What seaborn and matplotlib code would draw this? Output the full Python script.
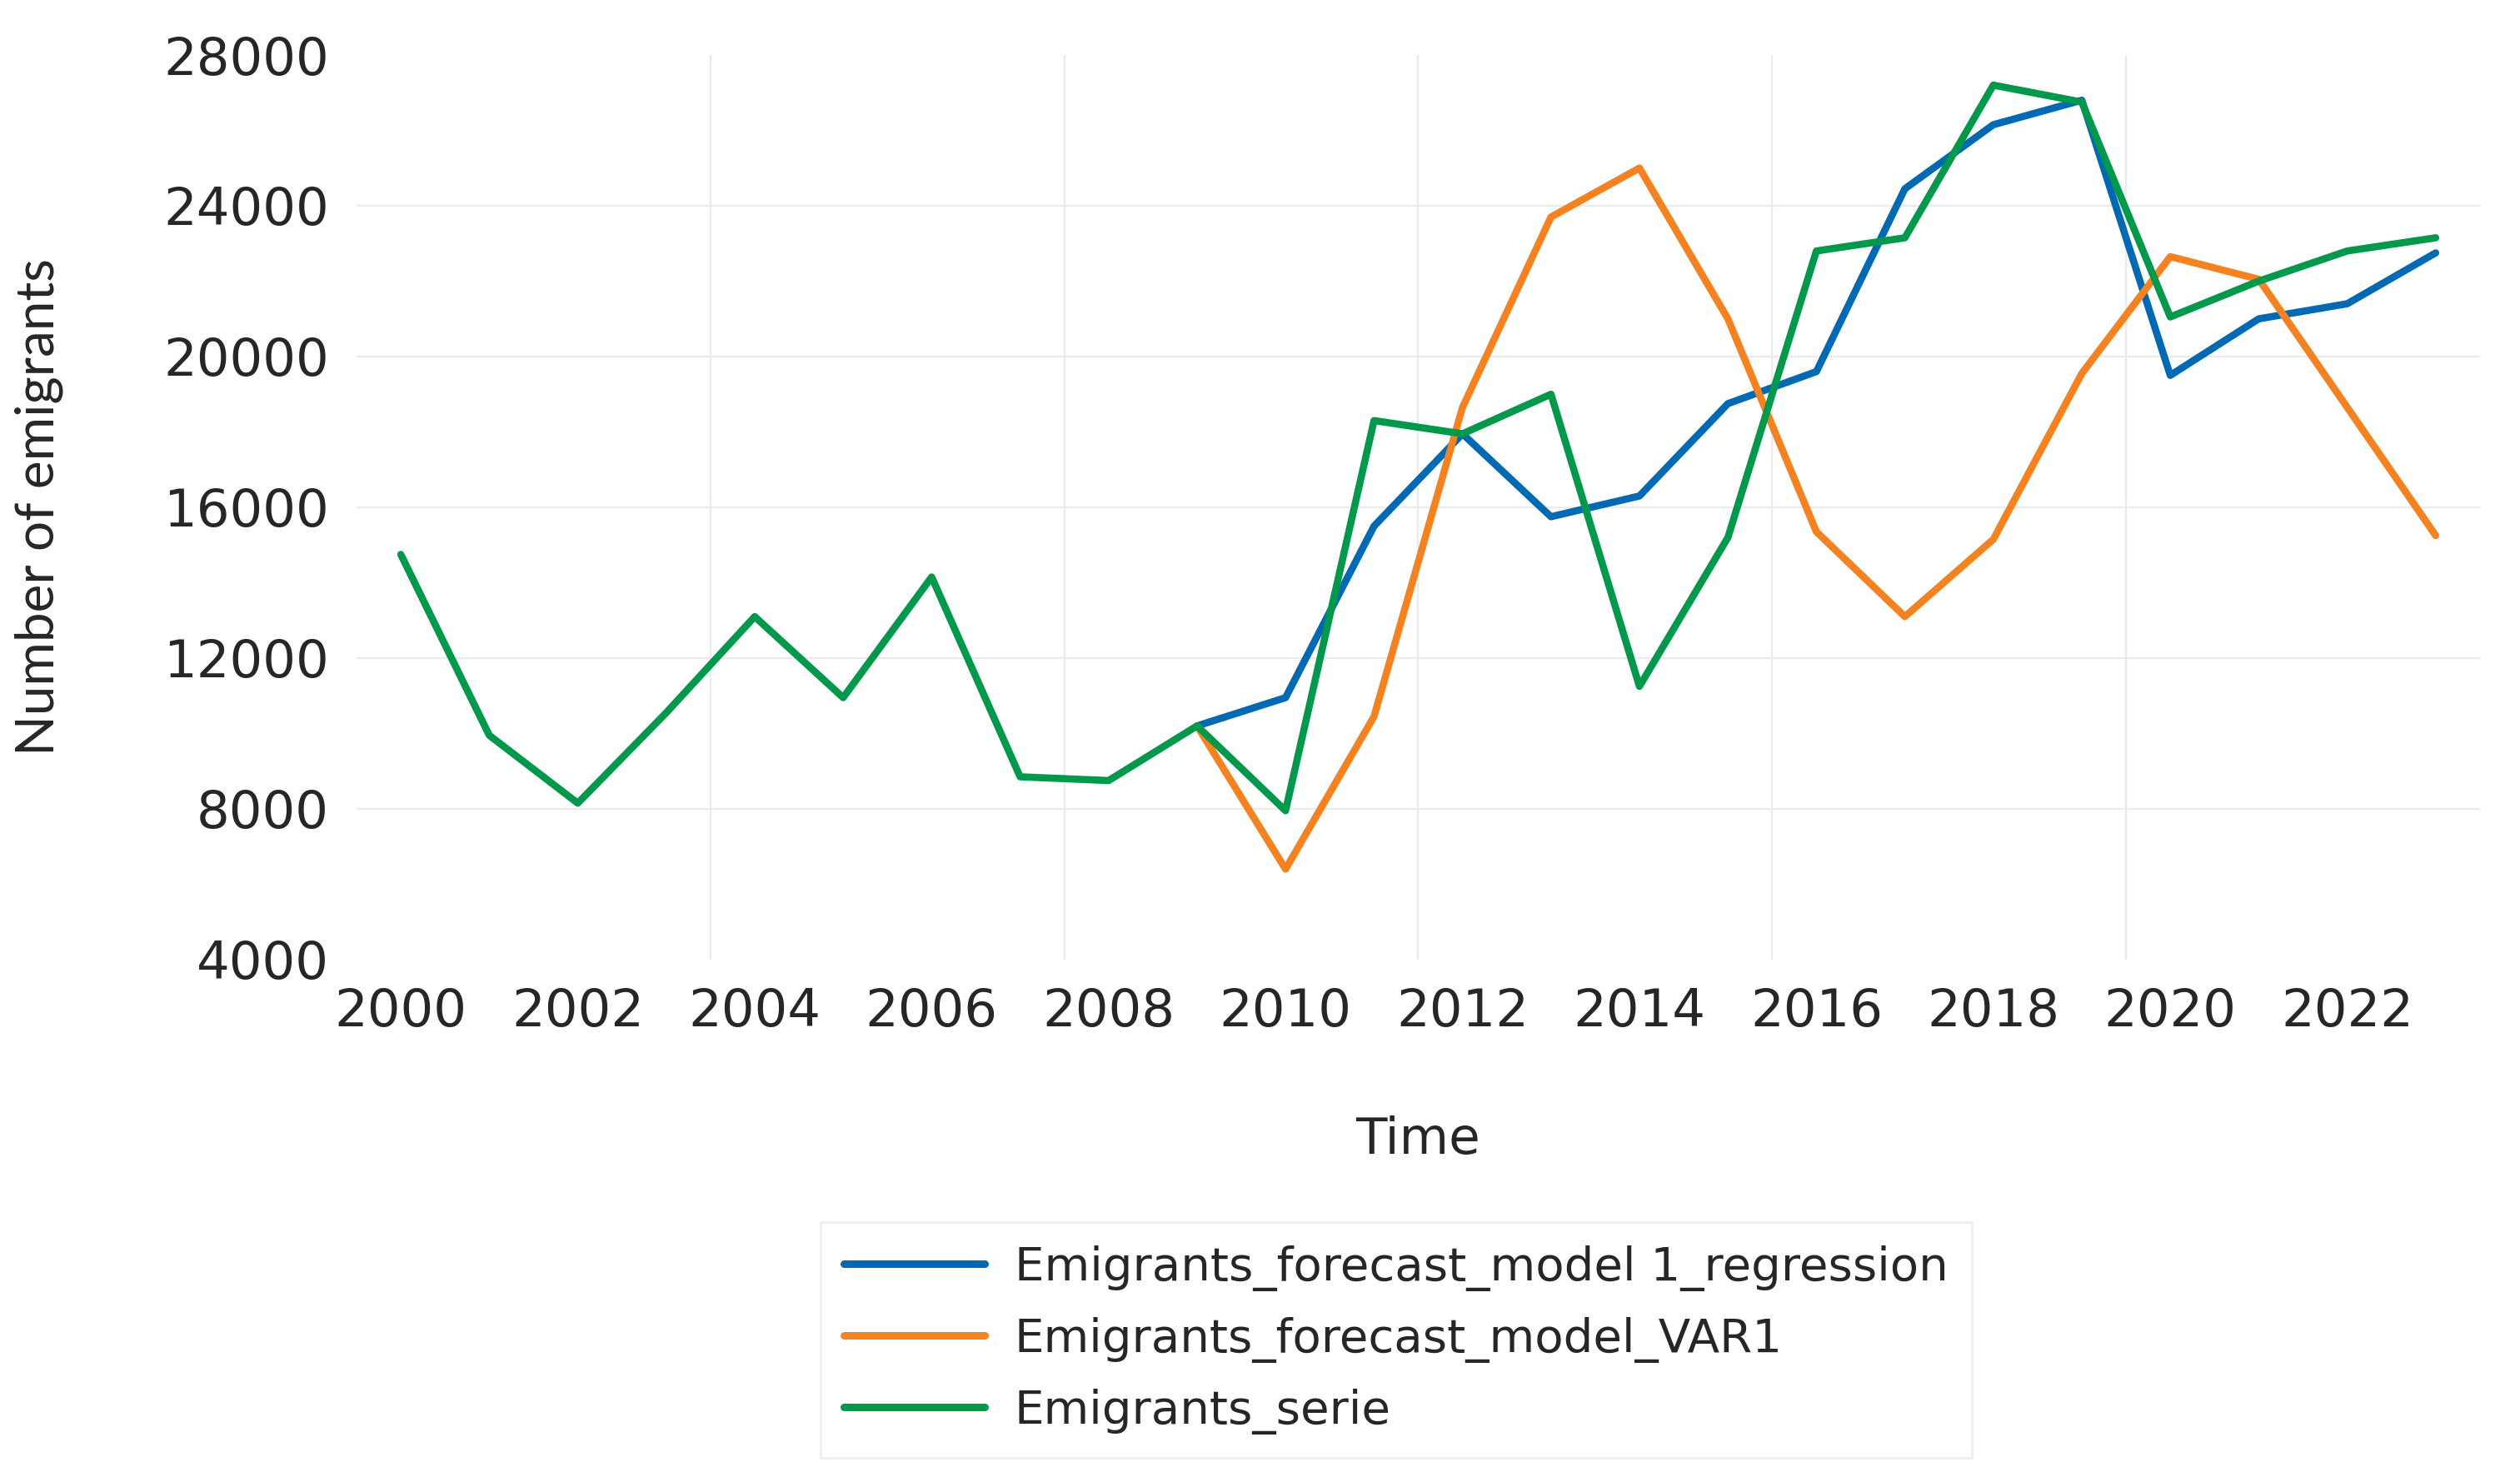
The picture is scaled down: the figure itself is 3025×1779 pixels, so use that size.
import numpy as np
import pandas as pd
import matplotlib
matplotlib.use('Agg')
import matplotlib.pyplot as plt
import seaborn as sns

# values
years = list(range(2000, 2024))
serie = [14750, 9950, 8150, 10550, 13100, 10950, 14150, 8850, 8750, 10200,
         7950, 18300, 17950, 19000, 11250, 15200, 22800, 23150, 27200, 26750,
         21050, 22000, 22800, 23150]

forecast_years = list(range(2009, 2024))
forecast_reg = [10200, 10950, 15500, 17950, 15750, 16300, 18750, 19600, 24450,
                26150, 26800, 19500, 21000, 21400, 22750]
forecast_var = [10200, 6400, 10450, 18650, 23700, 25000, 21000, 15350, 13100,
                15150, 19550, 22650, 22050, 18650, 15250]

names = ['Emigrants_forecast_model 1_regression',
         'Emigrants_forecast_model_VAR1',
         'Emigrants_serie']
colors = ['#0069B4', '#F58220', '#00994C']

xticks = list(range(2000, 2023, 2))
yticks = list(range(4000, 28001, 4000))
xgrid = [2003.5, 2007.5, 2011.5, 2015.5, 2019.5]


def main():
    df = pd.concat([
        pd.DataFrame({'year': forecast_years, 'value': forecast_reg, 'series': names[0]}),
        pd.DataFrame({'year': forecast_years, 'value': forecast_var, 'series': names[1]}),
        pd.DataFrame({'year': years, 'value': serie, 'series': names[2]}),
    ], ignore_index=True)

    sns.set_style('white')
    fig = plt.figure(figsize=(30.25, 17.79), dpi=100)
    ax = fig.add_axes([0.1415, 0.3525, 0.9841 - 0.1415, 0.9629 - 0.3525])

    sns.lineplot(data=df, x='year', y='value', hue='series', hue_order=names,
                 palette=dict(zip(names, colors)), linewidth=6.2, sort=False,
                 ax=ax)

    ax.set_xlim(1999.5, 2023.5)
    ax.set_ylim(4000, 28000)
    ax.set_xticks(xticks)
    ax.set_xticks(xgrid, minor=True)
    ax.set_yticks(yticks)
    ax.set_xticklabels([str(t) for t in xticks], fontsize=45, family='DejaVu Sans')
    ax.set_yticklabels([str(t) for t in yticks], fontsize=45, family='DejaVu Sans')
    ax.tick_params(axis='both', which='both', length=0, pad=24)

    ax.grid(False)
    ax.grid(True, axis='x', which='minor', color='#ebebeb', linewidth=1.6)
    ax.grid(True, axis='y', which='major', color='#ebebeb', linewidth=1.6)
    gl = ax.get_ygridlines()
    gl[0].set_visible(False)
    gl[-1].set_visible(False)
    ax.set_axisbelow(True)
    for s in ax.spines.values():
        s.set_visible(False)

    ax.set_xlabel('Time', fontsize=44, family='DejaVu Sans')
    ax.set_ylabel('Number of emigrants', fontsize=46, family='Lato')
    ax.xaxis.set_label_coords(0.5, -0.172)
    ax.yaxis.set_label_coords(-0.138, 0.5)

    handles, labels = ax.get_legend_handles_labels()
    leg = ax.legend(handles, labels, loc='upper left',
                    bbox_to_anchor=(985 / 3025, 1 - 1467 / 1779),
                    bbox_transform=fig.transFigure,
                    prop={'family': 'DejaVu Sans', 'size': 40.5},
                    frameon=True, fancybox=False, handlelength=3.0,
                    handletextpad=0.64, labelspacing=0.55, borderpad=0.5,
                    borderaxespad=0)
    leg.get_frame().set_edgecolor('#ececec')
    leg.get_frame().set_linewidth(2.2)
    for line in leg.get_lines():
        line.set_linewidth(6.5)

    fig.savefig('out.png', dpi=100, facecolor='white')
    plt.close(fig)


if __name__ == "__main__":
    main()
